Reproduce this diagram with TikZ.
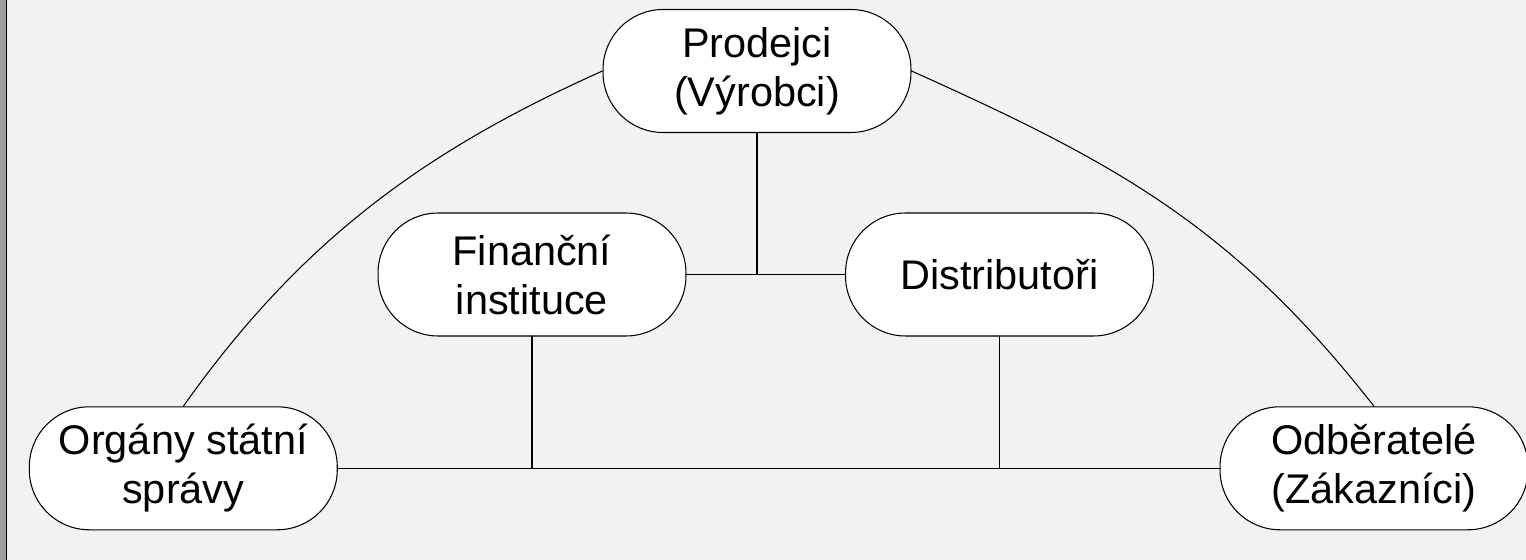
\documentclass[tikz,border=0pt]{standalone}
\usepackage{fontspec}
\setmainfont{Liberation Sans}

\definecolor{bgfill}{HTML}{F2F2F2}
\definecolor{edgegray}{HTML}{A0A0A0}

\begin{document}
\begin{tikzpicture}[line cap=round,line join=round,x=0.02cm,y=-0.02cm,
    party/.style={draw=black,fill=white,line width=0.6pt,rounded corners=1.2cm,
      minimum width=6.16cm,minimum height=2.46cm,inner sep=0pt,align=center,
      font=\fontsize{23.6}{27.9}\selectfont},
    link/.style={draw=black,line width=0.6pt}]
      \useasboundingbox (0,0) rectangle (1526,560);

      % Background
      \fill[bgfill] (0,0) rectangle (1526,560);
      \fill[edgegray] (0,0) rectangle (5.7,560);
      \fill[black] (5.7,0) rectangle (7,560);

      % Add Nodes
      \node[party] (prod) at (757,71) {Prodejci\\(Výrobci)};
      \node[party] (fin) at (532,274.5) {Finanční\\instituce};
      \node[party] (dist) at (999.5,274.5) {Distributoři};
      \node[party] (org) at (183.3,468.3) {Orgány státní\\správy};
      \node[party] (odb) at (1374,468.3) {Odběratelé\\(Zákazníci)};

      % Add Lines
      \draw[link] (fin.east) -- (dist.west);
      \draw[link] (prod.south) -- (prod.south |- fin.east);
      \draw[link] (org.east) -- (odb.west);
      \draw[link] (fin.south) -- (fin.south |- org.east);
      \draw[link] (dist.south) -- (dist.south |- org.east);

      % Add Arcs
      \draw[link] (prod.west) .. controls +(-179,80) and +(117,-165) .. (org.north);
      \draw[link] (prod.east) .. controls +(205,92) and +(-141,-180) .. (odb.north);
    \end{tikzpicture}
\end{document}
